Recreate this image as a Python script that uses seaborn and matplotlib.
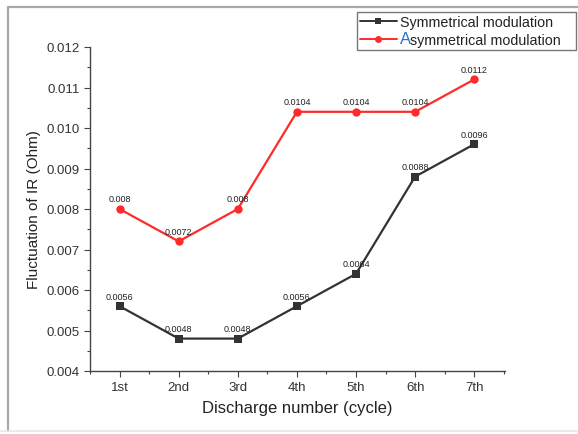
import pandas as pd
import matplotlib.pyplot as plt
from matplotlib.lines import Line2D
from matplotlib.ticker import MultipleLocator
import seaborn as sns

cycles = ['1st', '2nd', '3rd', '4th', '5th', '6th', '7th']
sym = [0.0056, 0.0048, 0.0048, 0.0056, 0.0064, 0.0088, 0.0096]
asym = [0.008, 0.0072, 0.008, 0.0104, 0.0104, 0.0104, 0.0112]
sym_labels = ['0.0056', '0.0048', '0.0048', '0.0056', '0.0064', '0.0088', '0.0096']
asym_labels = ['0.008', '0.0072', '0.008', '0.0104', '0.0104', '0.0104', '0.0112']

df = pd.DataFrame({
    'cycle': cycles * 2,
    'value': sym + asym,
    'series': ['Symmetrical modulation'] * 7 + ['Asymmetrical modulation'] * 7,
})

sns.set_style('ticks')
plt.rcParams['font.family'] = ['Liberation Sans', 'DejaVu Sans']

fig = plt.figure(figsize=(5.78, 4.35), dpi=100)
ax = fig.add_axes([90 / 578, 63 / 435, 415 / 578, 324 / 435])

ax = sns.lineplot(data=df, x='cycle', y='value', hue='series', style='series',
                  markers=['s', 'o'], dashes=False, palette=['#333333', '#ff2a2a'],
                  markersize=6, markeredgewidth=0, linewidth=1.6, ax=ax, legend=False)

for i, (v, t) in enumerate(zip(sym, sym_labels)):
    ax.text(i, v + 0.00014, t, ha='center', va='bottom', fontsize=6.5, color='#222222')
for i, (v, t) in enumerate(zip(asym, asym_labels)):
    ax.text(i, v + 0.00014, t, ha='center', va='bottom', fontsize=6.5, color='#222222')

ax.set_xlim(-0.47, 6.52)
ax.set_ylim(0.004, 0.012)
ax.yaxis.set_major_locator(MultipleLocator(0.001))
ax.yaxis.set_minor_locator(MultipleLocator(0.0005))
ax.set_xticks(range(7))
ax.set_xticks([i + 0.5 for i in range(-1, 7)], minor=True)
ax.set_xticklabels(cycles)
ax.yaxis.set_major_formatter(plt.FormatStrFormatter('%.3f'))
ax.tick_params(which='major', length=4, width=0.8, color='#444444', labelsize=9.5,
               labelcolor='#333333')
ax.tick_params(which='minor', length=2.5, width=0.8, color='#444444')
for s in ['left', 'bottom']:
    ax.spines[s].set_color('#444444')
    ax.spines[s].set_linewidth(1.0)
sns.despine(ax=ax)

ax.set_xlabel('Discharge number (cycle)', fontsize=12, color='#222222', labelpad=5)
ax.set_ylabel('Fluctuation of IR (Ohm)', fontsize=11, color='#222222', labelpad=4)

handles = [
    Line2D([], [], color='#333333', marker='s', markersize=5, markeredgewidth=0, lw=1.4),
    Line2D([], [], color='#ff2a2a', marker='o', markersize=5, markeredgewidth=0, lw=1.4),
]
# trailing spaces widen the box to leave room for the shifted second label
leg = fig.legend(handles, ['Symmetrical modulation     ', 'symmetrical modulation'],
                 loc='upper left', bbox_to_anchor=(357 / 578, 1 - 13 / 435),
                 fontsize=10.3, frameon=True, fancybox=False, edgecolor='#555555',
                 handlelength=2.6, handletextpad=0.2, borderpad=0.2, labelspacing=0.3,
                 borderaxespad=0)
leg.get_frame().set_linewidth(1.0)
for t in leg.get_texts():
    t.set_color('#222222')

# the larger blue capital A of the second legend entry, text shifted right to make room
fig.canvas.draw()
t2 = leg.get_texts()[1]
bb = t2.get_window_extent()
t2.set_x(10)
fig.text(bb.x0 / 578, (bb.y0 + 1) / 435, 'A', fontsize=12, color='#2f6fd0',
         ha='left', va='bottom', zorder=10)

# screenshot frame
fig.add_artist(Line2D([8 / 578, 8 / 578], [3 / 435, 1 - 8 / 435], transform=fig.transFigure,
                      color='#a8a8a8', lw=1.6))
fig.add_artist(Line2D([8 / 578, 1], [1 - 8 / 435, 1 - 8 / 435], transform=fig.transFigure,
                      color='#a8a8a8', lw=1.6))
fig.add_artist(Line2D([0, 1], [3 / 435, 3 / 435], transform=fig.transFigure,
                      color='#e6e6e6', lw=1.2))

fig.savefig('out.png', dpi=100)
